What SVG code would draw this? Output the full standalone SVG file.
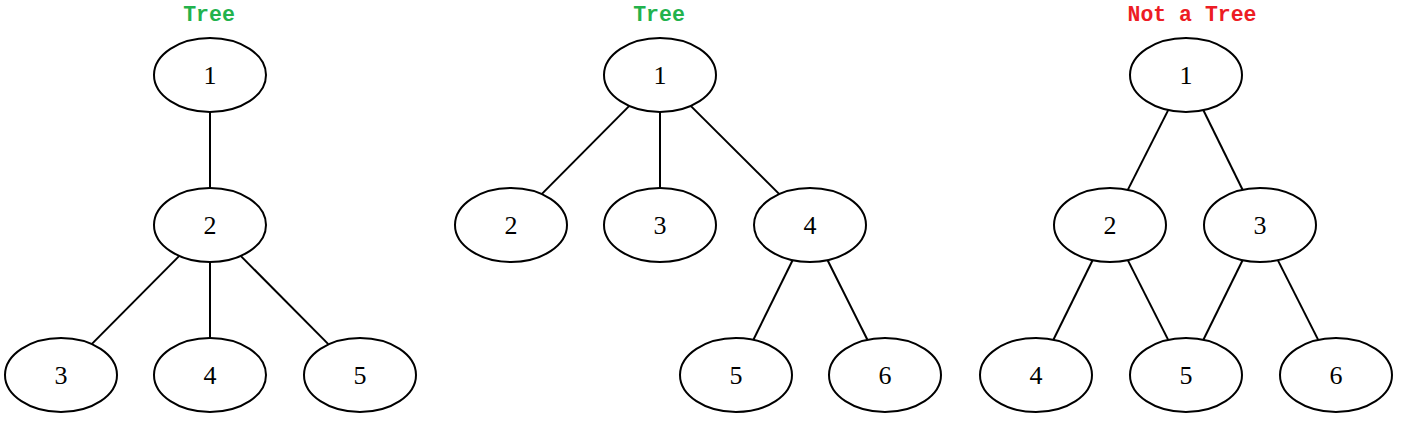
<svg xmlns="http://www.w3.org/2000/svg" width="1405" height="426" viewBox="0 0 1405 426">
<style>
.n ellipse{fill:#fff;stroke:#000;stroke-width:2}
.n text{font-family:"Liberation Serif","Times New Roman",serif;font-size:26px;text-anchor:middle;fill:#000}
.e line{stroke:#000;stroke-width:2}
.t{font-family:"Liberation Mono","Courier New",monospace;font-weight:bold;font-size:21.5px;text-anchor:middle}
</style>
<rect width="1405" height="426" fill="#fff"/>
<text class="t" x="209" y="21" fill="#22b24c">Tree</text>
<text class="t" x="659" y="21" fill="#22b24c">Tree</text>
<text class="t" x="1192" y="21" fill="#ed1c24">Not a Tree</text>
<g id="edges" class="e">
<line x1="210" y1="112" x2="210" y2="188"/>
<line x1="179.3" y1="255.9" x2="91.7" y2="344.1"/>
<line x1="210" y1="262" x2="210" y2="338"/>
<line x1="240.7" y1="255.9" x2="328.3" y2="344.1"/>
<line x1="629.3" y1="105.9" x2="541.7" y2="194.1"/>
<line x1="660" y1="112" x2="660" y2="188"/>
<line x1="690.7" y1="105.9" x2="779.3" y2="194.1"/>
<line x1="792.6" y1="260.2" x2="753.4" y2="339.8"/>
<line x1="827.6" y1="260.2" x2="867.4" y2="339.8"/>
<line x1="1168.2" y1="110.1" x2="1127.8" y2="189.9"/>
<line x1="1203.4" y1="110.2" x2="1242.6" y2="189.8"/>
<line x1="1092.6" y1="260.2" x2="1053.4" y2="339.8"/>
<line x1="1127.8" y1="260.1" x2="1168.2" y2="339.9"/>
<line x1="1242.6" y1="260.2" x2="1203.4" y2="339.8"/>
<line x1="1277.8" y1="260.1" x2="1318.2" y2="339.9"/>
</g>
<g id="a1" class="n"><ellipse cx="210" cy="75" rx="56" ry="37"/><text x="210" y="84">1</text></g>
<g id="a2" class="n"><ellipse cx="210" cy="225" rx="56" ry="37"/><text x="210" y="234">2</text></g>
<g id="a3" class="n"><ellipse cx="61" cy="375" rx="56" ry="37"/><text x="61" y="384">3</text></g>
<g id="a4" class="n"><ellipse cx="210" cy="375" rx="56" ry="37"/><text x="210" y="384">4</text></g>
<g id="a5" class="n"><ellipse cx="360" cy="375" rx="56" ry="37"/><text x="360" y="384">5</text></g>
<g id="b1" class="n"><ellipse cx="660" cy="75" rx="56" ry="37"/><text x="660" y="84">1</text></g>
<g id="b2" class="n"><ellipse cx="511" cy="225" rx="56" ry="37"/><text x="511" y="234">2</text></g>
<g id="b3" class="n"><ellipse cx="660" cy="225" rx="56" ry="37"/><text x="660" y="234">3</text></g>
<g id="b4" class="n"><ellipse cx="810" cy="225" rx="56" ry="37"/><text x="810" y="234">4</text></g>
<g id="b5" class="n"><ellipse cx="736" cy="375" rx="56" ry="37"/><text x="736" y="384">5</text></g>
<g id="b6" class="n"><ellipse cx="885" cy="375" rx="56" ry="37"/><text x="885" y="384">6</text></g>
<g id="c1" class="n"><ellipse cx="1186" cy="75" rx="56" ry="37"/><text x="1186" y="84">1</text></g>
<g id="c2" class="n"><ellipse cx="1110" cy="225" rx="56" ry="37"/><text x="1110" y="234">2</text></g>
<g id="c3" class="n"><ellipse cx="1260" cy="225" rx="56" ry="37"/><text x="1260" y="234">3</text></g>
<g id="c4" class="n"><ellipse cx="1036" cy="375" rx="56" ry="37"/><text x="1036" y="384">4</text></g>
<g id="c5" class="n"><ellipse cx="1186" cy="375" rx="56" ry="37"/><text x="1186" y="384">5</text></g>
<g id="c6" class="n"><ellipse cx="1336" cy="375" rx="56" ry="37"/><text x="1336" y="384">6</text></g>
</svg>
